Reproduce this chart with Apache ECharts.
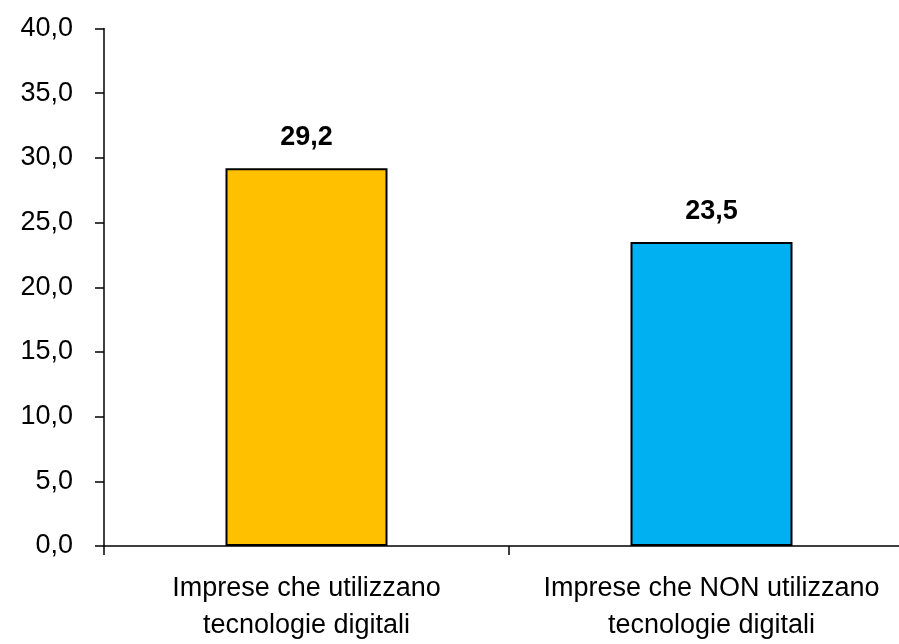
<!DOCTYPE html>
<html><head><meta charset="utf-8">
<script src="https://cdn.jsdelivr.net/npm/echarts@6/dist/echarts.min.js"></script>
<style>html,body{margin:0;padding:0;background:#fff;overflow:hidden;width:899px;height:644px}#c{width:930px;height:644px}</style>
</head><body><div id="c"></div>
<script>
const categories = ["Imprese che utilizzano\ntecnologie digitali", "Imprese che NON utilizzano\ntecnologie digitali"];
const values = [29.2, 23.5];
const barColors = ["#FFC000", "#00B0F0"];
const yTicks = [0, 5, 10, 15, 20, 25, 30, 35, 40];

const FONT = "'Liberation Sans', Arial, sans-serif";
const fmt = v => v.toFixed(1).replace('.', ',');
const chart = echarts.init(document.getElementById('c'), null, {renderer: 'canvas'});
chart.setOption({
  animation: false,
  backgroundColor: '#fff',
  grid: {left: 104, right: 16, top: 28.5, bottom: 97.5, containLabel: false},
  xAxis: {
    type: 'category', data: categories,
    axisLine: {lineStyle: {color: '#000', width: 1.5}},
    axisTick: {show: true, length: 9, inside: false, lineStyle: {color: '#000', width: 1.5}},
    axisLabel: {color: '#000', fontFamily: FONT, fontSize: 27, lineHeight: 37, margin: 24, interval: 0}
  },
  yAxis: {
    type: 'value', min: yTicks[0], max: yTicks[yTicks.length-1], interval: 5,
    splitLine: {show: false},
    axisLine: {show: true, lineStyle: {color: '#000', width: 1.5}},
    axisTick: {show: true, length: 9, lineStyle: {color: '#000', width: 1.5}},
    axisLabel: {color: '#000', fontFamily: FONT, fontSize: 27, margin: 31, formatter: v => fmt(v)}
  },
  series: [{
    type: 'bar', barWidth: '40%',
    data: values.map((v, i) => ({value: v, itemStyle: {color: barColors[i]}})),
    itemStyle: {borderColor: '#000', borderWidth: 2},
    label: {show: true, position: 'top', distance: 17, color: '#000', fontFamily: FONT, fontWeight: 'bold', fontSize: 27, formatter: p => fmt(p.value)}
  }]
});
</script></body></html>
